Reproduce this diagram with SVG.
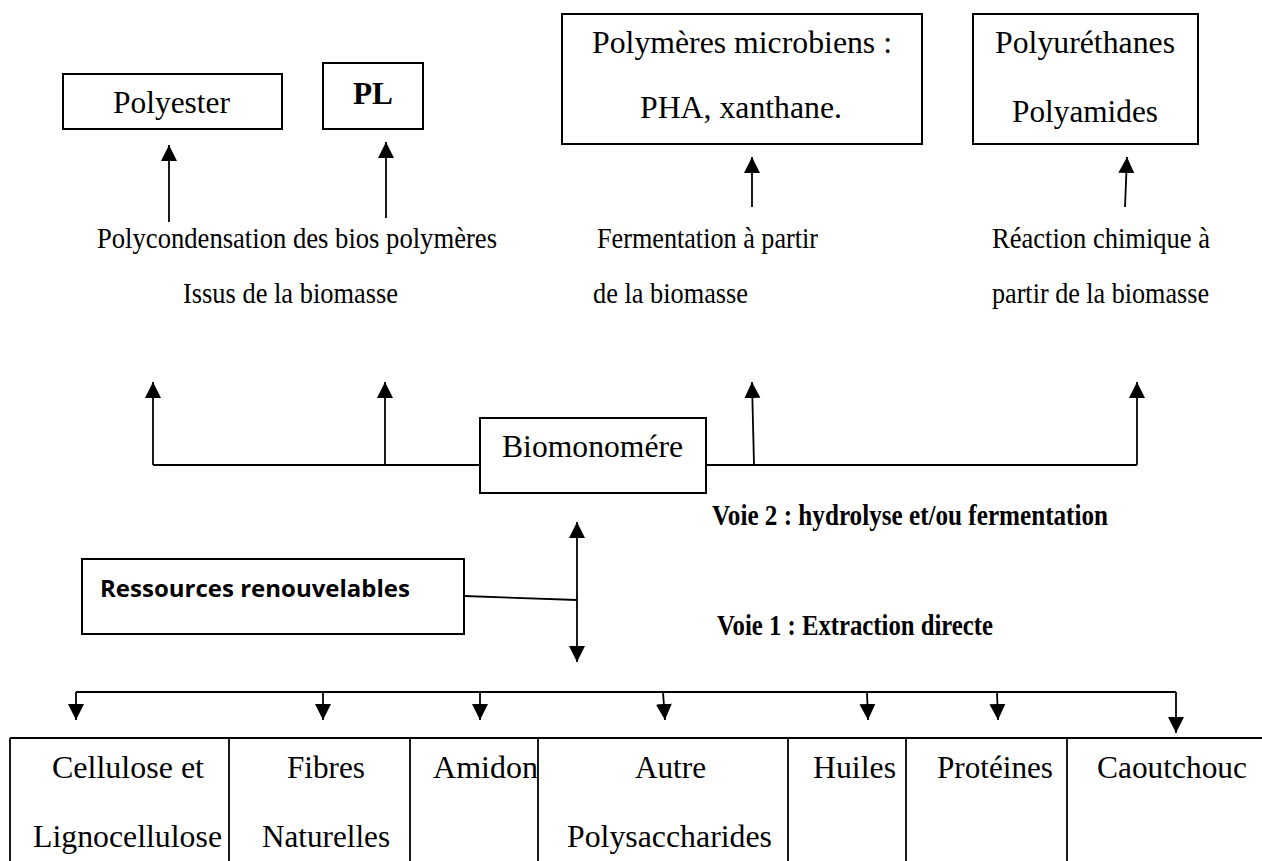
<svg xmlns="http://www.w3.org/2000/svg" width="1262" height="861" viewBox="0 0 1262 861">
<style>
.box{fill:#fff;stroke:#000;stroke-width:2}
.ln{fill:none;stroke:#000;stroke-width:1.8}
.ar{fill:none;stroke:#000;stroke-width:1.8;marker-end:url(#ah)}
.t{font-family:"Liberation Serif","Times New Roman",serif;font-size:31px;fill:#000}
.c{font-family:"Liberation Serif","Times New Roman",serif;font-size:30px;fill:#000}
.b{font-family:"Liberation Serif","Times New Roman",serif;font-size:29px;font-weight:bold;fill:#000}
.s{font-family:"Open Sans","Liberation Sans",Arial,sans-serif;font-size:24px;font-weight:bold;fill:#000}
</style>
<defs>
<marker id="ah" markerUnits="userSpaceOnUse" markerWidth="17" markerHeight="17" viewBox="0 0 17 17" refX="16" refY="8.5" orient="auto">
<path d="M0,0.5 L16,8.5 L0,16.5 Z" fill="#000"/>
</marker>
<marker id="ahs" markerUnits="userSpaceOnUse" markerWidth="17" markerHeight="17" viewBox="0 0 17 17" refX="16" refY="8.5" orient="auto-start-reverse">
<path d="M0,0.5 L16,8.5 L0,16.5 Z" fill="#000"/>
</marker>
</defs>
<rect width="1262" height="861" fill="#fff"/>

<g id="connectors">
<line class="ar" x1="169" y1="222" x2="169" y2="145"/>
<line class="ar" x1="386" y1="218" x2="386" y2="142"/>
<line class="ar" x1="752" y1="207" x2="752" y2="157"/>
<line class="ar" x1="1125" y1="207" x2="1127" y2="157"/>
<polyline class="ln" points="153,465 480,465"/>
<polyline class="ln" points="706,465 1137,465"/>
<line class="ar" x1="153" y1="465" x2="153" y2="382"/>
<line class="ar" x1="385" y1="465" x2="385" y2="382"/>
<line class="ar" x1="754" y1="465" x2="752" y2="382"/>
<line class="ar" x1="1137" y1="465" x2="1137" y2="382"/>
<line class="ln" x1="464" y1="596" x2="577" y2="600"/>
<line class="ln" x1="577" y1="522" x2="577" y2="662" marker-start="url(#ahs)" marker-end="url(#ah)"/>
<polyline class="ln" points="76,692 1176,692"/>
<line class="ar" x1="76" y1="692" x2="76" y2="720"/>
<line class="ar" x1="323" y1="692" x2="323" y2="720"/>
<line class="ar" x1="480" y1="692" x2="480" y2="720"/>
<line class="ar" x1="663" y1="692" x2="665" y2="720"/>
<line class="ar" x1="867" y1="692" x2="868" y2="720"/>
<line class="ar" x1="997" y1="692" x2="998" y2="720"/>
<line class="ar" x1="1176" y1="692" x2="1176" y2="733"/>
</g>

<g id="polyester">
<rect class="box" x="63" y="74" width="219" height="55"/>
<text class="t" x="113" y="113" textLength="117" lengthAdjust="spacingAndGlyphs">Polyester</text>
</g>
<g id="pl">
<rect class="box" x="323" y="63" width="100" height="66"/>
<text class="t" x="353" y="104" font-weight="bold" textLength="40" lengthAdjust="spacingAndGlyphs">PL</text>
</g>
<g id="polymeres-microbiens">
<rect class="box" x="562" y="14" width="360" height="130"/>
<text class="t" x="592" y="53" textLength="300" lengthAdjust="spacingAndGlyphs">Polymères microbiens :</text>
<text class="t" x="640" y="118" textLength="202" lengthAdjust="spacingAndGlyphs">PHA, xanthane.</text>
</g>
<g id="polyurethanes">
<rect class="box" x="973" y="14" width="225" height="130"/>
<text class="t" x="995" y="53" textLength="180" lengthAdjust="spacingAndGlyphs">Polyuréthanes</text>
<text class="t" x="1012" y="122" textLength="146" lengthAdjust="spacingAndGlyphs">Polyamides</text>
</g>

<g id="label-polycondensation">
<text class="c" x="97" y="248" textLength="400" lengthAdjust="spacingAndGlyphs">Polycondensation des bios polymères</text>
<text class="c" x="183" y="303" textLength="215" lengthAdjust="spacingAndGlyphs">Issus de la biomasse</text>
</g>
<g id="label-fermentation">
<text class="c" x="597" y="248" textLength="221" lengthAdjust="spacingAndGlyphs">Fermentation à partir</text>
<text class="c" x="593" y="303" textLength="155" lengthAdjust="spacingAndGlyphs">de la biomasse</text>
</g>
<g id="label-reaction">
<text class="c" x="992" y="248" textLength="218" lengthAdjust="spacingAndGlyphs">Réaction chimique à</text>
<text class="c" x="992" y="303" textLength="217" lengthAdjust="spacingAndGlyphs">partir de la biomasse</text>
</g>

<g id="biomonomere">
<rect class="box" x="480" y="418" width="226" height="75"/>
<text class="t" x="502" y="457" textLength="181" lengthAdjust="spacingAndGlyphs">Biomonomére</text>
</g>

<g id="voie2">
<text class="b" x="712" y="525" textLength="396" lengthAdjust="spacingAndGlyphs">Voie 2 : hydrolyse et/ou fermentation</text>
</g>
<g id="voie1">
<text class="b" x="717" y="635" textLength="276" lengthAdjust="spacingAndGlyphs">Voie 1 : Extraction directe</text>
</g>

<g id="ressources">
<rect class="box" x="82" y="559" width="382" height="75"/>
<text class="s" x="100" y="597" textLength="310" lengthAdjust="spacingAndGlyphs">Ressources renouvelables</text>
</g>

<g id="table">
<line class="ln" x1="10" y1="738" x2="1262" y2="738"/>
<line class="ln" x1="10" y1="738" x2="10" y2="861"/>
<line class="ln" x1="229" y1="738" x2="229" y2="861"/>
<line class="ln" x1="410" y1="738" x2="410" y2="861"/>
<line class="ln" x1="538" y1="738" x2="538" y2="861"/>
<line class="ln" x1="788" y1="738" x2="788" y2="861"/>
<line class="ln" x1="906" y1="738" x2="906" y2="861"/>
<line class="ln" x1="1067" y1="738" x2="1067" y2="861"/>
</g>
<g id="cell-cellulose">
<text class="t" x="52" y="778" textLength="152" lengthAdjust="spacingAndGlyphs">Cellulose et</text>
<text class="t" x="33" y="847" textLength="189" lengthAdjust="spacingAndGlyphs">Lignocellulose</text>
</g>
<g id="cell-fibres">
<text class="t" x="287" y="778" textLength="78" lengthAdjust="spacingAndGlyphs">Fibres</text>
<text class="t" x="262" y="847" textLength="128" lengthAdjust="spacingAndGlyphs">Naturelles</text>
</g>
<g id="cell-amidon">
<text class="t" x="433" y="778" textLength="105" lengthAdjust="spacingAndGlyphs">Amidon</text>
</g>
<g id="cell-autre">
<text class="t" x="635" y="778" textLength="71" lengthAdjust="spacingAndGlyphs">Autre</text>
<text class="t" x="567" y="847" textLength="205" lengthAdjust="spacingAndGlyphs">Polysaccharides</text>
</g>
<g id="cell-huiles">
<text class="t" x="813" y="778" textLength="83" lengthAdjust="spacingAndGlyphs">Huiles</text>
</g>
<g id="cell-proteines">
<text class="t" x="937" y="778" textLength="116" lengthAdjust="spacingAndGlyphs">Protéines</text>
</g>
<g id="cell-caoutchouc">
<text class="t" x="1097" y="778" textLength="150" lengthAdjust="spacingAndGlyphs">Caoutchouc</text>
</g>
</svg>
